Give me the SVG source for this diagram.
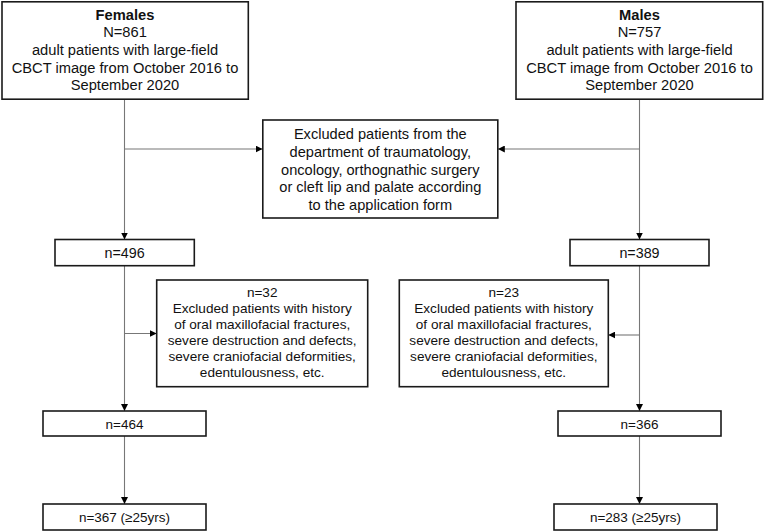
<svg xmlns="http://www.w3.org/2000/svg" width="764" height="532" viewBox="0 0 764 532">
<defs>
<marker id="ah" viewBox="0 0 10 10" refX="10" refY="5" markerWidth="7" markerHeight="7" markerUnits="userSpaceOnUse" orient="auto">
<path d="M0,0 L10,5 L0,10 Z" fill="#000"/>
</marker>
<style>
.box{fill:#fff;stroke:#1a1a1a;stroke-width:1.6}
.t{font-family:"Liberation Sans",Arial,Helvetica,sans-serif;fill:#111;text-anchor:middle}
.l{fill:none;stroke:#777;stroke-width:1.1}
.a{marker-end:url(#ah)}
</style>
</defs>
<rect width="764" height="532" fill="#fff"/>
<g id="connectors">
<line class="l a" x1="124.5" y1="99.5" x2="124.5" y2="239.5"/>
<line class="l a" x1="124.5" y1="149" x2="262.5" y2="149"/>
<line class="l a" x1="639.5" y1="99.5" x2="639.5" y2="239.5"/>
<line class="l a" x1="639.5" y1="149" x2="497.8" y2="149"/>
<line class="l a" x1="124.5" y1="265.7" x2="124.5" y2="411"/>
<line class="l a" x1="124.5" y1="333.5" x2="156.7" y2="333.5"/>
<line class="l a" x1="639.5" y1="265.7" x2="639.5" y2="411"/>
<line class="l a" x1="639.5" y1="335" x2="608.3" y2="335"/>
<line class="l a" x1="124.5" y1="436" x2="124.5" y2="504"/>
<line class="l a" x1="639.5" y1="436" x2="639.5" y2="504"/>
</g>
<g id="females">
<rect class="box" x="2" y="1.8" width="246.3" height="97.4"/>
<text class="t" font-size="14.7" x="125" y="19.5" font-weight="bold">Females</text>
<text class="t" font-size="14.7" x="125" y="37.2">N=861</text>
<text class="t" font-size="14.7" x="125" y="54.9">adult patients with large-field</text>
<text class="t" font-size="14.7" x="125" y="72.6">CBCT image from October 2016 to</text>
<text class="t" font-size="14.7" x="125" y="90.3">September 2020</text>
</g>
<g id="males">
<rect class="box" x="516" y="1.8" width="246.7" height="97.4"/>
<text class="t" font-size="14.7" x="639.5" y="19.5" font-weight="bold">Males</text>
<text class="t" font-size="14.7" x="639.5" y="37.2">N=757</text>
<text class="t" font-size="14.7" x="639.5" y="54.9">adult patients with large-field</text>
<text class="t" font-size="14.7" x="639.5" y="72.6">CBCT image from October 2016 to</text>
<text class="t" font-size="14.7" x="639.5" y="90.3">September 2020</text>
</g>
<g id="excluded1">
<rect class="box" x="262.8" y="120" width="235" height="98"/>
<text class="t" font-size="14.6" x="380.3" y="139.3">Excluded patients from the</text>
<text class="t" font-size="14.6" x="380.3" y="157">department of traumatology,</text>
<text class="t" font-size="14.6" x="380.3" y="174.7">oncology, orthognathic surgery</text>
<text class="t" font-size="14.6" x="380.3" y="192.4">or cleft lip and palate according</text>
<text class="t" font-size="14.6" x="380.3" y="210.1">to the application form</text>
</g>
<g id="f496">
<rect class="box" x="55" y="239.5" width="139.3" height="26.2"/>
<text class="t" font-size="14.3" x="124.6" y="257.8">n=496</text>
</g>
<g id="m389">
<rect class="box" x="570" y="239.5" width="139" height="26.2"/>
<text class="t" font-size="14.3" x="639.5" y="257.8">n=389</text>
</g>
<g id="excludedF">
<rect class="box" x="156.7" y="280" width="211" height="106.7"/>
<text class="t" font-size="13.6" x="262.2" y="296.5">n=32</text>
<text class="t" font-size="13.6" x="262.2" y="312.5">Excluded patients with history</text>
<text class="t" font-size="13.6" x="262.2" y="328.5">of oral maxillofacial fractures,</text>
<text class="t" font-size="13.6" x="262.2" y="344.5">severe destruction and defects,</text>
<text class="t" font-size="13.6" x="262.2" y="360.5">severe craniofacial deformities,</text>
<text class="t" font-size="13.6" x="262.2" y="376.5">edentulousness, etc.</text>
</g>
<g id="excludedM">
<rect class="box" x="399.3" y="280" width="209" height="106.7"/>
<text class="t" font-size="13.6" x="503.8" y="296.5">n=23</text>
<text class="t" font-size="13.6" x="503.8" y="312.5">Excluded patients with history</text>
<text class="t" font-size="13.6" x="503.8" y="328.5">of oral maxillofacial fractures,</text>
<text class="t" font-size="13.6" x="503.8" y="344.5">severe destruction and defects,</text>
<text class="t" font-size="13.6" x="503.8" y="360.5">severe craniofacial deformities,</text>
<text class="t" font-size="13.6" x="503.8" y="376.5">edentulousness, etc.</text>
</g>
<g id="f464">
<rect class="box" x="43" y="411" width="163" height="25"/>
<text class="t" font-size="13.5" x="124.5" y="428.5">n=464</text>
</g>
<g id="m366">
<rect class="box" x="558" y="411" width="163" height="25"/>
<text class="t" font-size="13.5" x="639.5" y="428.5">n=366</text>
</g>
<g id="f367">
<rect class="box" x="43" y="504" width="163" height="26"/>
<text class="t" font-size="13.5" x="124.5" y="522">n=367 (≥25yrs)</text>
</g>
<g id="m283">
<rect class="box" x="554" y="504" width="163" height="26"/>
<text class="t" font-size="13.5" x="635.5" y="522">n=283 (≥25yrs)</text>
</g>
</svg>
